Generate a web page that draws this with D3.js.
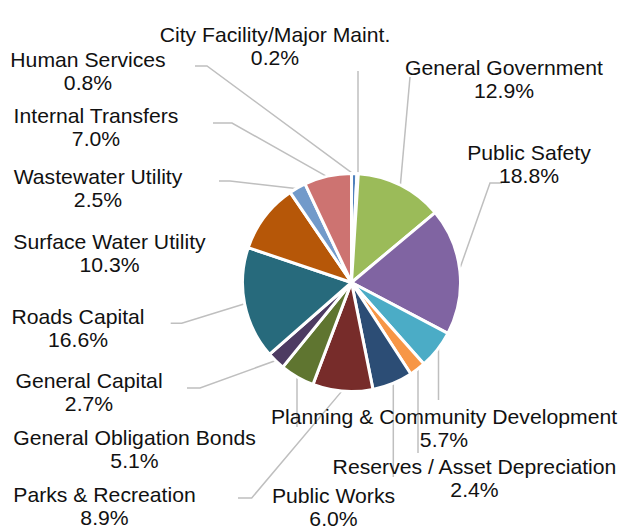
<!DOCTYPE html>
<html>
<head>
<meta charset="utf-8">
<script src="https://d3js.org/d3.v7.min.js"></script>
<style>
  html, body { margin: 0; padding: 0; background: #fff; }
  svg { display: block; }
  text { font-family: "Liberation Sans", Arial, sans-serif; fill: #111; }
</style>
</head>
<body>
<svg id="chart" width="627" height="529"></svg>
<script>
// Budget share by category, in percent, in the order the slices are drawn (clockwise from 12 o'clock)
const categories = [
  "Human Services",
  "City Facility/Major Maint.",
  "General Government",
  "Public Safety",
  "Planning & Community Development",
  "Reserves / Asset Depreciation",
  "Public Works",
  "Parks & Recreation",
  "General Obligation Bonds",
  "General Capital",
  "Roads Capital",
  "Surface Water Utility",
  "Wastewater Utility",
  "Internal Transfers"
];
const values = [0.8, 0.2, 12.9, 18.8, 5.7, 2.4, 6.0, 8.9, 5.1, 2.7, 16.6, 10.3, 2.5, 7.0];

const sliceColors = [
  "#4F81BD", "#C0504D", "#9BBB59", "#8064A2", "#4BACC6", "#F79646", "#2C4D75",
  "#772C2A", "#5F7530", "#4D3B62", "#276A7C", "#B65708", "#729ACA", "#CD7371"
];

// Label placement: centre x, first-line baseline, and leader-line elbow points.
// "vertical" leaders drop straight down/up to the pie edge.
const labelLayout = [
  { x: 88,  y: 66.5,  leader: [[195, 66], [207, 66]] },
  { x: 275, y: 41.5,  leader: [[358, 71]], vertical: true },
  { x: 504, y: 75,    leader: [[410, 77]] },
  { x: 529, y: 159.5, leader: [[502, 183], [490, 183]] },
  { x: 444, y: 423.5, leader: [[438.5, 400]], vertical: true },
  { x: 474.5, y: 473.5, leader: [[418, 453]], vertical: true },
  { x: 333.5, y: 502.5, leader: [[393.3, 477]], vertical: true },
  { x: 104.5, y: 501.5, leader: [[238, 498], [251.7, 498]] },
  { x: 134.5, y: 445, leader: [[297, 427]], vertical: true },
  { x: 89,  y: 387.5, leader: [[187, 388], [200, 388]] },
  { x: 78,  y: 323.5, leader: [[170.7, 323.3], [181.7, 323.3]] },
  { x: 109.5, y: 248.5, leader: null },
  { x: 98,  y: 183.5, leader: [[219, 181], [230, 181]] },
  { x: 96,  y: 122.5, leader: [[213, 123], [232, 123]] }
];

const cx = 351.5, cy = 282.5, radius = 109, edge = 108;
const fontSize = 20, lineGap = 23.5, stretch = 1.06;

const svg = d3.select("#chart");

const pie = d3.pie().sort(null).value(d => d)
  .startAngle(0).endAngle(2 * Math.PI);
const arcs = pie(values);
const arc = d3.arc().innerRadius(0).outerRadius(radius);

const color = d3.scaleOrdinal().domain(d3.range(values.length)).range(sliceColors);

// Leader lines (drawn under the slices so they meet the edge cleanly)
const leaderG = svg.append("g");
arcs.forEach((a, i) => {
  const lay = labelLayout[i];
  if (!lay.leader) return;
  const mid = (a.startAngle + a.endAngle) / 2;
  let end;
  if (lay.vertical) {
    const px = lay.leader[lay.leader.length - 1][0];
    const dx = px - cx;
    const dy = Math.sqrt(Math.max(0, edge * edge - dx * dx));
    const py = lay.leader[0][1] > cy ? cy + dy : cy - dy;
    end = [px, py];
  } else {
    end = [cx + edge * Math.sin(mid), cy - edge * Math.cos(mid)];
  }
  const pts = lay.leader.concat([end]);
  leaderG.append("path")
    .attr("d", d3.line()(pts))
    .attr("fill", "none")
    .attr("stroke", "#BFBFBF")
    .attr("stroke-width", 1.5);
});

// Slices
svg.append("g")
  .attr("transform", `translate(${cx},${cy})`)
  .selectAll("path")
  .data(arcs)
  .join("path")
  .attr("d", arc)
  .attr("fill", (d, i) => color(i))
  .attr("stroke", "#fff")
  .attr("stroke-width", 3)
  .attr("stroke-linejoin", "round");

// Category labels with their percentages
const fmt = d3.format(".1f");
const labels = svg.append("g")
  .selectAll("g")
  .data(arcs)
  .join("g")
  .attr("transform", (d, i) => `translate(${labelLayout[i].x},${labelLayout[i].y}) scale(${stretch},1)`);

labels.append("text")
  .attr("text-anchor", "middle")
  .attr("font-size", fontSize)
  .text((d, i) => categories[i]);

labels.append("text")
  .attr("text-anchor", "middle")
  .attr("font-size", fontSize)
  .attr("y", lineGap)
  .text(d => fmt(d.data) + "%");
</script>
</body>
</html>
